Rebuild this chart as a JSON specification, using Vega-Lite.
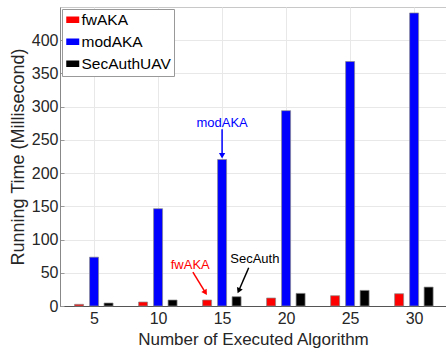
{
  "$schema": "https://vega.github.io/schema/vega-lite/v6.json",
  "width": 386,
  "height": 299,
  "autosize": "none",
  "padding": {"left": 60, "top": 7, "right": 0, "bottom": 50},
  "background": "white",
  "config": {
    "font": "Liberation Sans",
    "view": {"stroke": "#c8c8c8", "strokeWidth": 1},
    "axis": {
      "labelFont": "Liberation Sans",
      "titleFont": "Liberation Sans",
      "labelColor": "#262626",
      "titleColor": "#262626",
      "titleFontWeight": "normal",
      "labelFontSize": 16,
      "titleFontSize": 17,
      "labelOverlap": false,
      "gridColor": "#e8e8e8",
      "gridWidth": 1,
      "tickColor": "#999999",
      "tickSize": -4,
      "domainColor": "#888888"
    },
    "axisX": {"values": [5, 10, 15, 20, 25, 30], "domainColor": "#555555", "labelPadding": 8, "titlePadding": 5},
    "axisY": {"values": [0, 50, 100, 150, 200, 250, 300, 350, 400], "labelOverlap": false, "titleFontSize": 18, "labelPadding": 6, "titlePadding": 4},
    "legend": {
      "labelFont": "Liberation Sans",
      "labelFontSize": 15.5,
      "labelColor": "#000000"
    }
  },
  "datasets": {
    "bars": [
      {"n": 5, "series": "fwAKA", "time": 2.5},
      {"n": 10, "series": "fwAKA", "time": 6},
      {"n": 15, "series": "fwAKA", "time": 9},
      {"n": 20, "series": "fwAKA", "time": 12},
      {"n": 25, "series": "fwAKA", "time": 15.5},
      {"n": 30, "series": "fwAKA", "time": 18.5},
      {"n": 5, "series": "modAKA", "time": 73.5},
      {"n": 10, "series": "modAKA", "time": 146.5},
      {"n": 15, "series": "modAKA", "time": 220.5},
      {"n": 20, "series": "modAKA", "time": 294},
      {"n": 25, "series": "modAKA", "time": 368},
      {"n": 30, "series": "modAKA", "time": 441},
      {"n": 5, "series": "SecAuthUAV", "time": 4.5},
      {"n": 10, "series": "SecAuthUAV", "time": 9},
      {"n": 15, "series": "SecAuthUAV", "time": 14},
      {"n": 20, "series": "SecAuthUAV", "time": 19},
      {"n": 25, "series": "SecAuthUAV", "time": 23.5},
      {"n": 30, "series": "SecAuthUAV", "time": 28.5}
    ],
    "notes": [
      {"label": "modAKA", "tx": 15, "ty": 276, "x": 15, "y": 266, "x2": 15, "y2": 226},
      {"label": "fwAKA", "tx": 12.51, "ty": 61.5, "x": 12.72, "y": 51, "x2": 13.7, "y2": 20},
      {"label": "SecAuth", "tx": 17.56, "ty": 70, "x": 17.08, "y": 57.5, "x2": 16.3, "y2": 23}
    ]
  },
  "layer": [
    {
      "data": {"name": "bars"},
      "transform": [{"filter": "datum.series === 'fwAKA'"}],
      "mark": {"type": "bar", "width": 9, "xOffset": -15, "stroke": "#8a8a8a", "strokeWidth": 0.7},
      "encoding": {
        "x": {"field": "n", "type": "quantitative",
          "scale": {"domain": [2.73, 32.1], "nice": false, "zero": false},
          "axis": {"values": [5, 10, 15, 20, 25, 30], "title": "Number of Executed Algorithm"}},
        "y": {"field": "time", "type": "quantitative",
          "scale": {"domain": [0, 450], "nice": false},
          "axis": {"values": [0, 50, 100, 150, 200, 250, 300, 350, 400], "labelOverlap": false, "title": "Running Time (Millisecond)"}},
        "color": {"field": "series", "type": "nominal",
          "scale": {"domain": ["fwAKA", "modAKA", "SecAuthUAV"], "range": ["#ff0000", "#0000ff", "#000000"]},
          "legend": {"title": null, "orient": "top-left", "offset": 2, "symbolType": "M-1,-0.5H1V0.5H-1Z", "symbolSize": 169, "symbolStrokeWidth": 0, "symbolOpacity": 1, "strokeColor": "#999999", "fillColor": "#ffffff", "padding": 3, "rowPadding": 5, "labelOffset": 1}}
      }
    },
    {
      "data": {"name": "bars"},
      "transform": [{"filter": "datum.series === 'modAKA'"}],
      "mark": {"type": "bar", "width": 9, "xOffset": 0, "stroke": "#8a8a8a", "strokeWidth": 0.7},
      "encoding": {
        "x": {"field": "n", "type": "quantitative", "axis": {"values": [5, 10, 15, 20, 25, 30], "title": "Number of Executed Algorithm"}},
        "y": {"field": "time", "type": "quantitative", "axis": {"values": [0, 50, 100, 150, 200, 250, 300, 350, 400], "labelOverlap": false, "title": "Running Time (Millisecond)"}},
        "color": {"field": "series", "type": "nominal"}
      }
    },
    {
      "data": {"name": "bars"},
      "transform": [{"filter": "datum.series === 'SecAuthUAV'"}],
      "mark": {"type": "bar", "width": 9, "xOffset": 14.5, "stroke": "#8a8a8a", "strokeWidth": 0.7},
      "encoding": {
        "x": {"field": "n", "type": "quantitative", "axis": {"values": [5, 10, 15, 20, 25, 30], "title": "Number of Executed Algorithm"}},
        "y": {"field": "time", "type": "quantitative", "axis": {"values": [0, 50, 100, 150, 200, 250, 300, 350, 400], "labelOverlap": false, "title": "Running Time (Millisecond)"}},
        "color": {"field": "series", "type": "nominal"}
      }
    },
    {
      "data": {"name": "notes"},
      "mark": {"type": "rule", "strokeWidth": 1.5},
      "encoding": {
        "x": {"field": "x", "type": "quantitative", "axis": {"values": [5, 10, 15, 20, 25, 30], "title": "Number of Executed Algorithm"}},
        "y": {"field": "y", "type": "quantitative", "axis": {"values": [0, 50, 100, 150, 200, 250, 300, 350, 400], "labelOverlap": false, "title": "Running Time (Millisecond)"}},
        "x2": {"field": "x2"},
        "y2": {"field": "y2"},
        "color": {
          "condition": [
            {"test": "datum.label === 'modAKA'", "value": "#0000ff"},
            {"test": "datum.label === 'fwAKA'", "value": "#ff0000"}
          ],
          "value": "#000000"}
      }
    },
    {
      "data": {"name": "notes"},
      "mark": {"type": "text", "fontSize": 13, "font": "Liberation Sans", "baseline": "middle", "align": "center"},
      "encoding": {
        "x": {"field": "tx", "type": "quantitative", "axis": {"values": [5, 10, 15, 20, 25, 30], "title": "Number of Executed Algorithm"}},
        "y": {"field": "ty", "type": "quantitative", "axis": {"values": [0, 50, 100, 150, 200, 250, 300, 350, 400], "labelOverlap": false, "title": "Running Time (Millisecond)"}},
        "text": {"field": "label"},
        "color": {
          "condition": [
            {"test": "datum.label === 'modAKA'", "value": "#0000ff"},
            {"test": "datum.label === 'fwAKA'", "value": "#ff0000"}
          ],
          "value": "#000000"}
      }
    },
    {
      "data": {"name": "notes"},
      "transform": [{"filter": "datum.label === 'modAKA'"}],
      "mark": {"type": "point", "shape": "triangle-down", "filled": true, "size": 40, "color": "#0000ff", "opacity": 1},
      "encoding": {
        "x": {"field": "x2", "type": "quantitative", "axis": {"values": [5, 10, 15, 20, 25, 30], "title": "Number of Executed Algorithm"}},
        "y": {"field": "y2", "type": "quantitative", "axis": {"values": [0, 50, 100, 150, 200, 250, 300, 350, 400], "labelOverlap": false, "title": "Running Time (Millisecond)"}}
      }
    },
    {
      "data": {"name": "notes"},
      "transform": [{"filter": "datum.label === 'fwAKA'"}],
      "mark": {"type": "point", "shape": "triangle-down", "filled": true, "size": 40, "color": "#ff0000", "opacity": 1, "angle": -32},
      "encoding": {
        "x": {"field": "x2", "type": "quantitative", "axis": {"values": [5, 10, 15, 20, 25, 30], "title": "Number of Executed Algorithm"}},
        "y": {"field": "y2", "type": "quantitative", "axis": {"values": [0, 50, 100, 150, 200, 250, 300, 350, 400], "labelOverlap": false, "title": "Running Time (Millisecond)"}}
      }
    },
    {
      "data": {"name": "notes"},
      "transform": [{"filter": "datum.label === 'SecAuth'"}],
      "mark": {"type": "point", "shape": "triangle-down", "filled": true, "size": 40, "color": "#000000", "opacity": 1, "angle": 24},
      "encoding": {
        "x": {"field": "x2", "type": "quantitative", "axis": {"values": [5, 10, 15, 20, 25, 30], "title": "Number of Executed Algorithm"}},
        "y": {"field": "y2", "type": "quantitative", "axis": {"values": [0, 50, 100, 150, 200, 250, 300, 350, 400], "labelOverlap": false, "title": "Running Time (Millisecond)"}}
      }
    }
  ]
}
